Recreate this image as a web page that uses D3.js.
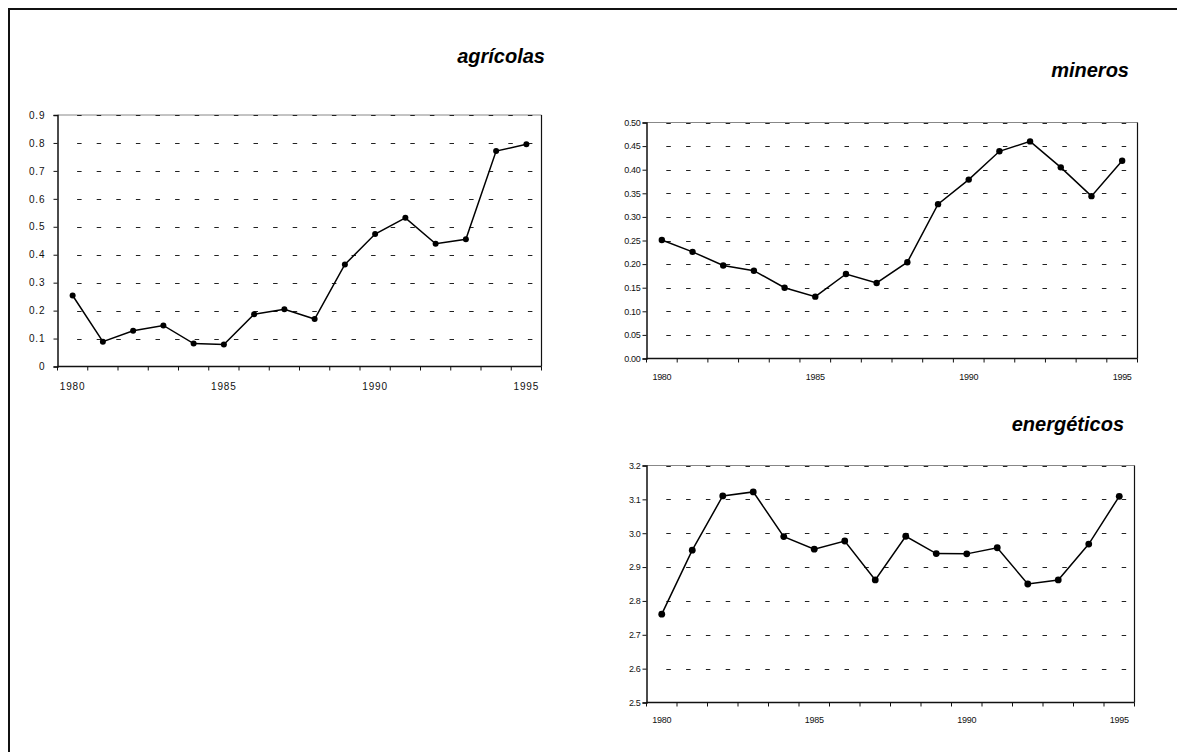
<!DOCTYPE html>
<html>
<head>
<meta charset="utf-8">
<script src="https://cdn.jsdelivr.net/npm/d3@7"></script>
<style>
  html, body { margin: 0; padding: 0; background: #fff; }
  svg { display: block; font-family: "Liberation Sans", Arial, sans-serif; }
</style>
</head>
<body>
<svg id="chart" width="1177" height="752"></svg>
<script>
// ---- data ----
const years = [1980,1981,1982,1983,1984,1985,1986,1987,1988,1989,1990,1991,1992,1993,1994,1995];
const yearLabels = [1980, 1985, 1990, 1995];

const agricolasValues = [0.254,0.089,0.128,0.147,0.082,0.079,0.187,0.205,0.170,0.365,0.474,0.532,0.439,0.455,0.771,0.795];
const minerosValues   = [0.251,0.226,0.197,0.186,0.150,0.131,0.179,0.160,0.204,0.327,0.379,0.439,0.460,0.405,0.344,0.419];
const energeticosValues = [2.761,2.950,3.110,3.122,2.990,2.953,2.977,2.862,2.991,2.940,2.939,2.957,2.850,2.862,2.968,3.109];

const agricolasTicks = [0,0.1,0.2,0.3,0.4,0.5,0.6,0.7,0.8,0.9];
const minerosTicks = [0,0.05,0.10,0.15,0.20,0.25,0.30,0.35,0.40,0.45,0.50];
const energeticosTicks = [2.5,2.6,2.7,2.8,2.9,3.0,3.1,3.2];

const titles = ["agrícolas", "mineros", "energéticos"];

// ---- drawing ----
const svg = d3.select("#chart");

// outer frame (left + top)
svg.append("path")
  .attr("d", "M9,752 L9,9 L1177,9")
  .attr("fill", "none").attr("stroke", "#111").attr("stroke-width", 2);

function drawChart(cfg) {
  const g = svg.append("g");
  const x = d3.scaleBand().domain(years).range([cfg.x0, cfg.x1]).paddingInner(0).paddingOuter(0);
  const y = d3.scaleLinear().domain([cfg.ticks[0], cfg.ticks[cfg.ticks.length - 1]]).range([cfg.yBot, cfg.yTop]);

  // top border (gray)
  g.append("line").attr("x1", cfg.x0).attr("x2", cfg.x1).attr("y1", cfg.yTop).attr("y2", cfg.yTop)
    .attr("stroke", "#888").attr("stroke-width", 1);
  // right border
  g.append("line").attr("x1", cfg.x1).attr("x2", cfg.x1).attr("y1", cfg.yTop).attr("y2", cfg.yBot)
    .attr("stroke", "#111").attr("stroke-width", 1.2);

  // dashed gridlines (all ticks except bottom)
  const period = cfg.dashPeriod;
  g.append("g").selectAll("line").data(cfg.ticks.slice(1)).join("line")
    .attr("x1", cfg.x0 + period).attr("x2", cfg.x1 - 2)
    .attr("y1", d => Math.round(y(d)) + 0.5).attr("y2", d => Math.round(y(d)) + 0.5)
    .attr("stroke", "#222").attr("stroke-width", 1)
    .attr("stroke-dasharray", `${cfg.dashLen} ${period - cfg.dashLen}`);

  // y axis
  const yAxis = d3.axisLeft(y).tickValues(cfg.ticks).tickSize(4).tickPadding(cfg.yPad)
    .tickFormat(cfg.fmt);
  const ya = g.append("g").attr("transform", `translate(${cfg.x0},0)`).call(yAxis);
  ya.select(".domain").attr("stroke", "#111").attr("stroke-width", 1.5);
  ya.selectAll(".tick line").attr("stroke", "#111");
  ya.selectAll(".tick text").attr("fill", "#111").attr("font-size", cfg.fontSize)
    .attr("letter-spacing", cfg.letterSpacing).attr("font-family", "Liberation Sans, Arial, sans-serif");

  // x axis: ticks at band boundaries
  const bounds = years.map(d => x(d)).concat([cfg.x1]);
  g.append("line").attr("x1", cfg.x0).attr("x2", cfg.x1).attr("y1", cfg.yBot).attr("y2", cfg.yBot)
    .attr("stroke", "#111").attr("stroke-width", 1.5);
  g.append("g").selectAll("line").data(bounds).join("line")
    .attr("x1", d => d).attr("x2", d => d).attr("y1", cfg.yBot).attr("y2", cfg.yBot + 4)
    .attr("stroke", "#111").attr("stroke-width", 1);
  g.append("g").selectAll("text").data(yearLabels).join("text")
    .attr("x", d => x(d) + x.bandwidth() / 2)
    .attr("y", cfg.xLabelY)
    .attr("text-anchor", "middle")
    .attr("font-size", cfg.fontSize)
    .attr("letter-spacing", cfg.letterSpacing)
    .attr("fill", "#111")
    .text(d => d);

  // line + markers
  const pts = years.map((yr, i) => [x(yr) + x.bandwidth() / 2, y(cfg.values[i])]);
  g.append("path").attr("d", d3.line()(pts)).attr("fill", "none")
    .attr("stroke", "#000").attr("stroke-width", 1.5);
  g.append("g").selectAll("circle").data(pts).join("circle")
    .attr("cx", d => d[0]).attr("cy", d => d[1]).attr("r", cfg.r).attr("fill", "#000");

  // title
  g.append("text").attr("x", cfg.titleX).attr("y", cfg.titleY).attr("text-anchor", "end")
    .attr("font-size", 20).attr("font-weight", "bold").attr("font-style", "italic")
    .attr("fill", "#000").text(cfg.title);
}

drawChart({
  values: agricolasValues, ticks: agricolasTicks, title: titles[0],
  x0: 57.5, x1: 541.5, yTop: 115, yBot: 366.5,
  xLabelY: 390, yPad: 8, fontSize: 10, letterSpacing: 0.9,
  fmt: d => d === 0 ? "0" : d3.format(".1f")(d),
  dashPeriod: 19.6, dashLen: 4.5, r: 3,
  titleX: 545, titleY: 63
});

drawChart({
  values: minerosValues, ticks: minerosTicks, title: titles[1],
  x0: 646.5, x1: 1137.5, yTop: 122.5, yBot: 358.5,
  xLabelY: 380, yPad: 2, fontSize: 9, letterSpacing: -0.3,
  fmt: d3.format(".2f"),
  dashPeriod: 19.8, dashLen: 4.5, r: 3.2,
  titleX: 1129, titleY: 77
});

drawChart({
  values: energeticosValues, ticks: energeticosTicks, title: titles[2],
  x0: 646.5, x1: 1134.5, yTop: 465.5, yBot: 702.5,
  xLabelY: 723, yPad: 2, fontSize: 9, letterSpacing: -0.3,
  fmt: d3.format(".1f"),
  dashPeriod: 19.8, dashLen: 4.5, r: 3.4,
  titleX: 1124, titleY: 431
});
</script>
</body>
</html>
